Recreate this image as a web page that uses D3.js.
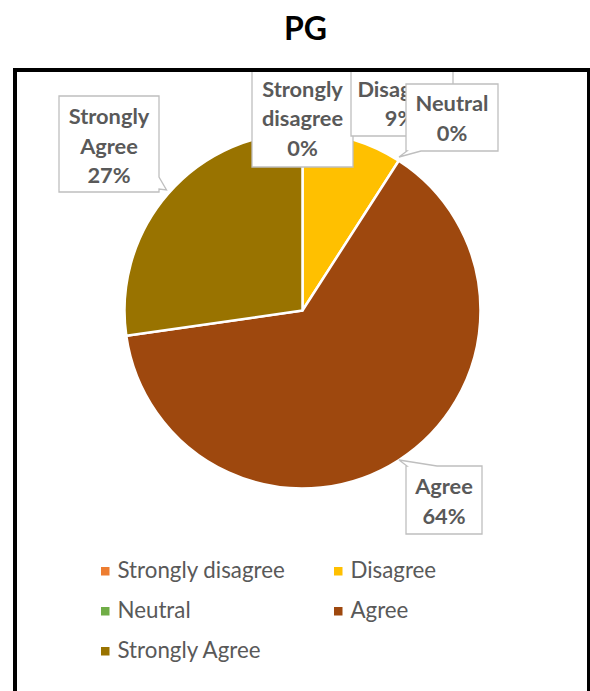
<!DOCTYPE html>
<html><head><meta charset="utf-8">
<script src="https://cdn.jsdelivr.net/npm/d3@7"></script>
<style>body{margin:0;background:#fff}</style>
</head><body>
<svg id="c" width="590" height="691"></svg>
<script>
const title = "PG";
const categories = ["Strongly disagree","Disagree","Neutral","Agree","Strongly Agree"];
const counts = [0, 1, 0, 7, 3];
const colors = ["#ED7D31","#FFC000","#70AD47","#9E480E","#997300"];

const svg = d3.select("#c");
const cx = 302.5, cy = 310.5, R = 178;
const gray = "#595959";
const font = "Lato, 'Open Sans', sans-serif";

svg.append("text").attr("x", 305.5).attr("y", 39.5).attr("text-anchor","middle")
  .attr("font-family", font).attr("font-weight","bold").attr("font-size", 32)
  .attr("fill","#000").text(title);

const defs = svg.append("defs");
defs.append("clipPath").attr("id","area").append("rect")
  .attr("x", 15).attr("y", 70).attr("width", 574).attr("height", 640);

const total = d3.sum(counts);
const pie = d3.pie().sort(null).value(d => d)(counts);
const arc = d3.arc().innerRadius(0).outerRadius(R);
const g = svg.append("g").attr("transform", `translate(${cx},${cy})`);
g.selectAll("path").data(pie).join("path")
  .attr("d", arc).attr("fill", (d,i) => colors[i])
  .attr("stroke", "#fff").attr("stroke-width", d => d.value > 0 ? 2.5 : 0)
  .attr("stroke-linejoin","round");

const pct = v => Math.round(v / total * 100) + "%";

const callouts = [
  {i:0, box:[252,55,353,167], lines:["Strongly","disagree"], tx:302.5, by:[97,126,155.5]},
  {i:1, box:[351,55,453,136], lines:["Disagree"], tx:400, by:[97,126]},
  {i:2, box:[406,84,498,151], lines:["Neutral"], tx:452, by:[111,140.5], side:"bottom", n:[407,421], p:[399,157]},
  {i:3, box:[406,466,482,534], lines:["Agree"], tx:444, by:[494,523.5], side:"top", n:[407,437], p:[399,460]},
  {i:4, box:[59,96,159,192], lines:["Strongly","Agree"], tx:109, by:[124,153.5,183], side:"right", n:[177,189], p:[166.5,190]}
];

function calloutPath(c){
  const [x0,y0,x1,y1] = c.box;
  const p = d3.path();
  p.moveTo(x0,y0);
  if (c.side === "top"){ p.lineTo(c.n[0],y0); p.lineTo(c.p[0],c.p[1]); p.lineTo(c.n[1],y0); }
  p.lineTo(x1,y0);
  if (c.side === "right"){ p.lineTo(x1,c.n[0]); p.lineTo(c.p[0],c.p[1]); p.lineTo(x1,c.n[1]); }
  p.lineTo(x1,y1);
  if (c.side === "bottom"){ p.lineTo(c.n[1],y1); p.lineTo(c.p[0],c.p[1]); p.lineTo(c.n[0],y1); }
  p.lineTo(x0,y1);
  p.closePath();
  return p.toString();
}

const lg = svg.append("g").attr("clip-path","url(#area)");
callouts.forEach(c => {
  const gg = lg.append("g");
  gg.append("path").attr("d", calloutPath(c)).attr("fill","#fff")
    .attr("stroke","#BFBFBF").attr("stroke-width",1.3);
  const lines = c.lines.concat([pct(counts[c.i])]);
  lines.forEach((t,k) => {
    gg.append("text").attr("x", c.tx).attr("y", c.by[k]).attr("text-anchor","middle")
      .attr("font-family", font).attr("font-weight","bold").attr("font-size", 21.8)
      .attr("fill", gray).text(t);
  });
});

const legPos = [[101,571],[334,571],[101,611],[334,611],[101,651]];
const leg = svg.append("g");
categories.forEach((c,i) => {
  const [x,y] = legPos[i];
  leg.append("rect").attr("x", x).attr("y", y-4).attr("width", 8.5).attr("height", 8.5).attr("fill", colors[i]);
  leg.append("text").attr("x", x+16.5).attr("y", y+6.5).attr("font-family", font)
    .attr("font-size", 22.3).attr("fill", gray).text(c);
});

svg.append("rect").attr("x", 15).attr("y", 70).attr("width", 574).attr("height", 640)
  .attr("fill","none").attr("stroke","#000").attr("stroke-width",4);
</script>
</body></html>
